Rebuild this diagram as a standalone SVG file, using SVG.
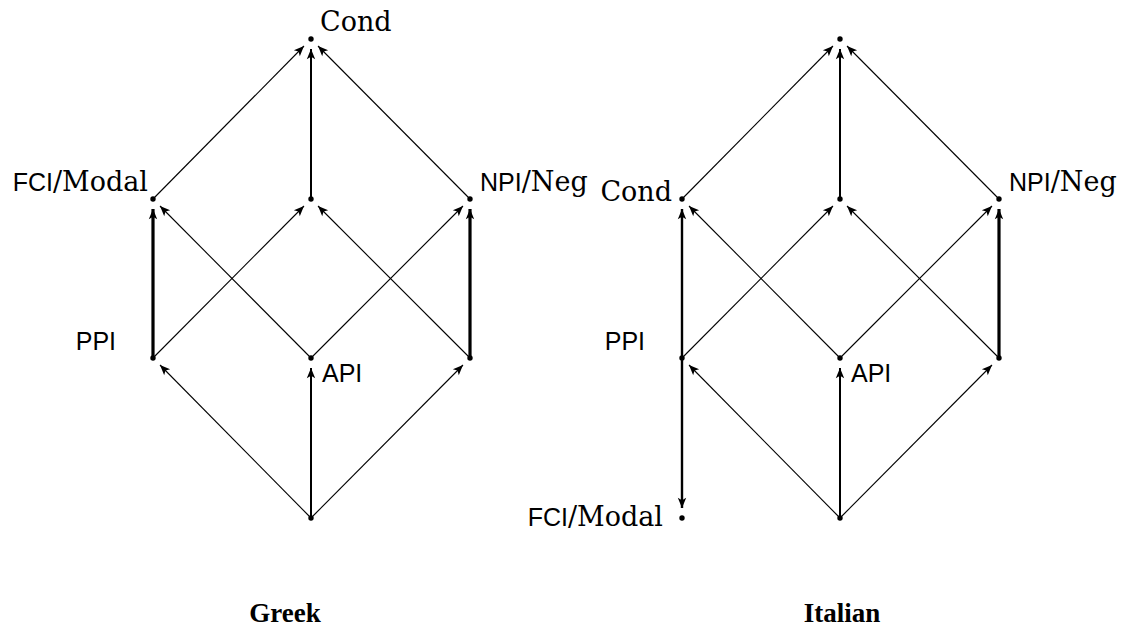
<svg xmlns="http://www.w3.org/2000/svg" width="1128" height="629" viewBox="0 0 1128 629">
<style>
.e{stroke:#000;stroke-width:1.1;fill:none;marker-end:url(#ah)}
.m{stroke-width:2}
.t{stroke-width:3.2}
.i{stroke-width:2.4}
.d{fill:#000}
.sf{font-family:"DejaVu Serif","Liberation Serif",serif;font-size:27px}
.ss{font-family:"Liberation Sans",Arial,sans-serif;font-size:25px}
.cap{font-family:"Liberation Serif","Times New Roman",serif;font-weight:bold;font-size:27px}
text{fill:#000}
</style>
<defs>
<marker id="ah" markerUnits="userSpaceOnUse" markerWidth="12" markerHeight="10" viewBox="-9 -4 10 8" refX="0" refY="0" orient="auto">
<path d="M0,0 L-8.5,-3.5 L-6.5,0 L-8.5,3.5 Z" fill="#000"/>
</marker>
</defs>
<g id="connectors">
<!-- Greek -->
<line class="e" x1="153" y1="199" x2="304" y2="46"/>
<line class="e m" x1="311" y1="199" x2="311" y2="49"/>
<line class="e" x1="470" y1="199" x2="318" y2="46"/>
<line class="e t" x1="153" y1="358" x2="153" y2="209"/>
<line class="e" x1="153" y1="358" x2="304" y2="206"/>
<line class="e" x1="311" y1="358" x2="160" y2="206"/>
<line class="e" x1="311" y1="358" x2="463" y2="206"/>
<line class="e" x1="470" y1="358" x2="318" y2="206"/>
<line class="e t" x1="470" y1="358" x2="470" y2="209"/>
<line class="e" x1="311" y1="518" x2="160" y2="365"/>
<line class="e m" x1="311" y1="518" x2="311" y2="368"/>
<line class="e" x1="311" y1="518" x2="463" y2="365"/>
<!-- Italian -->
<line class="e" x1="682" y1="199" x2="833" y2="46"/>
<line class="e m" x1="840" y1="199" x2="840" y2="49"/>
<line class="e" x1="999" y1="199" x2="847" y2="46"/>
<line class="e i" x1="682" y1="358" x2="682" y2="209"/>
<line class="e" x1="682" y1="358" x2="833" y2="206"/>
<line class="e" x1="840" y1="358" x2="689" y2="206"/>
<line class="e" x1="840" y1="358" x2="992" y2="206"/>
<line class="e" x1="999" y1="358" x2="847" y2="206"/>
<line class="e t" x1="999" y1="358" x2="999" y2="209"/>
<line class="e" x1="840" y1="518" x2="689" y2="365"/>
<line class="e m" x1="840" y1="518" x2="840" y2="368"/>
<line class="e" x1="840" y1="518" x2="992" y2="365"/>
<line class="e i" x1="682" y1="358" x2="682" y2="508"/>
</g>
<g id="greek-cond"><circle class="d" cx="311" cy="39" r="2.7"/><text class="sf" x="320" y="31">Cond</text></g>
<g id="greek-fci"><circle class="d" cx="153" cy="199" r="2.7"/><text x="148" y="191" text-anchor="end"><tspan class="ss">FCI</tspan><tspan class="sf">/Modal</tspan></text></g>
<g id="greek-mid"><circle class="d" cx="311" cy="199" r="2.7"/></g>
<g id="greek-npi"><circle class="d" cx="470" cy="199" r="2.7"/><text x="480" y="191"><tspan class="ss">NPI</tspan><tspan class="sf">/Neg</tspan></text></g>
<g id="greek-ppi"><circle class="d" cx="153" cy="358" r="2.7"/><text class="ss" x="116" y="350" text-anchor="end">PPI</text></g>
<g id="greek-api"><circle class="d" cx="311" cy="358" r="2.7"/><text class="ss" x="322" y="382">API</text></g>
<g id="greek-right"><circle class="d" cx="470" cy="358" r="2.7"/></g>
<g id="greek-bottom"><circle class="d" cx="311" cy="518" r="2.7"/></g>
<g id="it-top"><circle class="d" cx="840" cy="39" r="2.7"/></g>
<g id="it-cond"><circle class="d" cx="682" cy="199" r="2.7"/><text class="sf" x="672" y="201" text-anchor="end">Cond</text></g>
<g id="it-mid"><circle class="d" cx="840" cy="199" r="2.7"/></g>
<g id="it-npi"><circle class="d" cx="999" cy="199" r="2.7"/><text x="1009" y="191"><tspan class="ss">NPI</tspan><tspan class="sf">/Neg</tspan></text></g>
<g id="it-ppi"><circle class="d" cx="682" cy="358" r="2.7"/><text class="ss" x="645" y="350" text-anchor="end">PPI</text></g>
<g id="it-api"><circle class="d" cx="840" cy="358" r="2.7"/><text class="ss" x="851" y="382">API</text></g>
<g id="it-right"><circle class="d" cx="999" cy="358" r="2.7"/></g>
<g id="it-bottom"><circle class="d" cx="840" cy="518" r="2.7"/></g>
<g id="it-fci"><circle class="d" cx="682" cy="518" r="2.7"/><text x="663" y="526" text-anchor="end"><tspan class="ss">FCI</tspan><tspan class="sf">/Modal</tspan></text></g>
<g id="captions">
<text class="cap" x="285" y="622" text-anchor="middle">Greek</text>
<text class="cap" x="842" y="622" text-anchor="middle">Italian</text>
</g>
</svg>
